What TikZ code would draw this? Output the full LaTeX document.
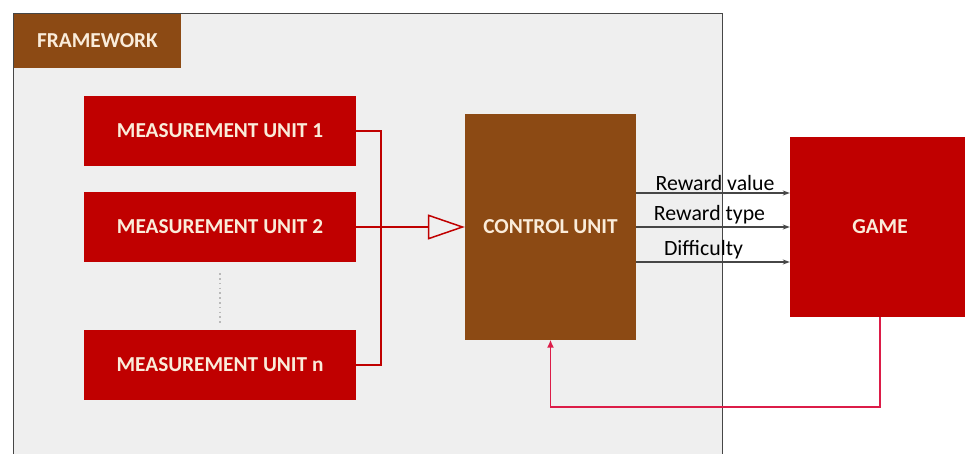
\documentclass[tikz,border=0pt]{standalone}
\usepackage{fontspec}
\setmainfont{Carlito}
\usetikzlibrary{arrows.meta,calc}
\definecolor{unitred}{RGB}{192,0,0}
\definecolor{unitbrown}{RGB}{140,74,20}
\definecolor{panelgrey}{RGB}{239,239,239}
\definecolor{labelcream}{RGB}{250,236,218}
\definecolor{linkred}{RGB}{220,28,72}
\definecolor{signalgrey}{RGB}{70,70,70}
\tikzset{
  unitbox/.style={rectangle, fill=unitred, text=labelcream, font=\fontsize{21.3}{24}\selectfont\bfseries, inner sep=0pt},
  brownbox/.style={rectangle, fill=unitbrown, text=labelcream, font=\fontsize{21.3}{24}\selectfont\bfseries, inner sep=0pt},
  signal/.style={draw=signalgrey, line width=1.2pt, -{Stealth[length=7pt,width=5pt]}},
  siglabel/.style={font=\fontsize{21.8}{24}\selectfont, text=black, inner sep=2pt},
  bus/.style={draw=unitred, line width=1.5pt},
}
\begin{document}
\begin{tikzpicture}[x=1pt,y=-1pt]
\useasboundingbox (0,0) rectangle (965,454);
\fill[white] (0,0) rectangle (965,454);
% framework panel (continues below the lower edge)
\fill[panelgrey] (13,13) rectangle (722,454);
\draw[signalgrey, line width=0.8pt] (13,454) -- (13,13) -- (722,13) -- (722,454);

\node[brownbox, minimum width=167pt, minimum height=54pt] (fw) at (97.5,41) {FRAMEWORK};

\node[unitbox, minimum width=272pt, minimum height=70pt] (mu1) at (220,131) {MEASUREMENT UNIT 1};
\node[unitbox, minimum width=272pt, minimum height=70pt] (mu2) at (220,227) {MEASUREMENT UNIT 2};
\node[unitbox, minimum width=272pt, minimum height=70pt] (mun) at (220,365) {MEASUREMENT UNIT n};

\node[brownbox, minimum width=171pt, minimum height=225pt] (cu) at (550.5,227) {CONTROL UNIT};
\node[unitbox, minimum width=180pt, minimum height=180pt] (game) at (880,227) {GAME};

% elided units
\draw[gray!55, line width=1.6pt, dash pattern=on 1.6pt off 3.2pt] ($(mu2.south)+(0,11)$) -- ($(mun.north)+(0,-5)$);

% measurement bus into the control unit
\draw[bus] (mu1.east) -- ++(25,0) |- (mun.east);
\draw[bus, -{Triangle[open, length=37pt, width=25pt, line width=1.5pt]}] (mu2.east) -- (cu.west);

% control signals to the game
\draw[signal] ($(cu.east)+(0,-34)$) -- node[siglabel, above, xshift=2pt] {Reward value} ($(game.west)+(0,-34)$);
\draw[signal] (cu.east) -- node[siglabel, above, xshift=-3.5pt] {Reward type} (game.west);
\draw[signal] ($(cu.east)+(0,35)$) -- node[siglabel, above, xshift=-9.5pt] {Difficulty} ($(game.west)+(0,35)$);

% feedback from the game
\draw[linkred, line width=1.5pt, -{Latex[length=8pt,width=7pt]}] (game.south) -- ++(0,90) -| (cu.south);
\end{tikzpicture}
\end{document}
